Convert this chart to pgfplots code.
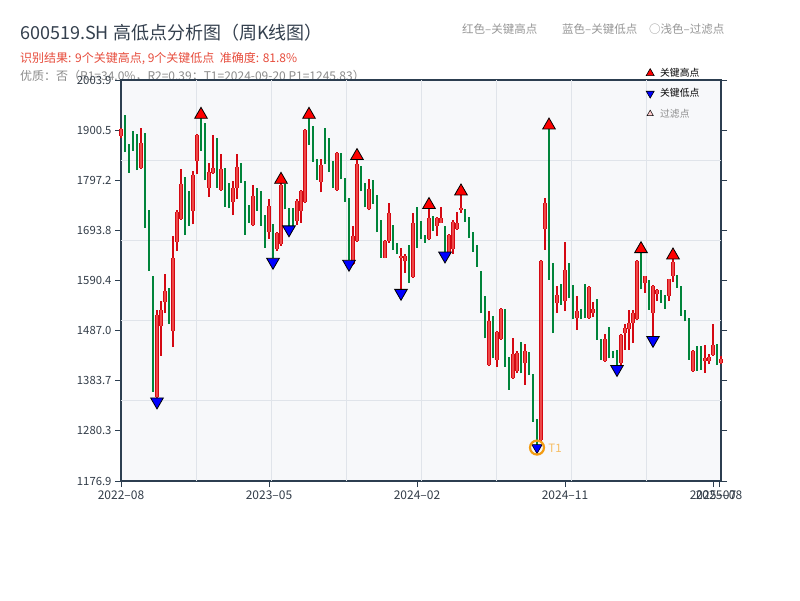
\documentclass[border=0pt]{standalone}
\usepackage{fontspec}
\setmainfont{Noto Sans CJK SC}
\usepackage{pgfplots}
\pgfplotsset{compat=1.18}
\usepackage{pgfplotstable}

\definecolor{upred}{RGB}{212,8,18}
\definecolor{upredin}{RGB}{238,72,72}
\definecolor{dngreen}{RGB}{0,132,58}
\definecolor{spine}{RGB}{44,62,80}
\definecolor{gridc}{RGB}{224,228,234}
\definecolor{bgc}{RGB}{247,248,250}
\definecolor{titlec}{RGB}{52,64,78}
\definecolor{subred}{RGB}{231,76,60}
\definecolor{subgray}{RGB}{140,140,140}
\definecolor{topgray}{RGB}{150,150,150}
\definecolor{ticklab}{RGB}{50,60,72}
\definecolor{t1orange}{RGB}{243,156,18}
\definecolor{t1text}{RGB}{246,190,100}
\definecolor{filtpink}{RGB}{255,205,205}

\pgfplotsset{dotlegend/.style={legend image code/.code={\draw[##1] plot coordinates {(0pt,0pt)};}}}

% weekly candles, red = close above open
\pgfplotstableread{
i o h l c
0 1888 1905 1885 1902
5 1823 1904 1820 1875
9 1351 1530 1348 1520
10 1496 1548 1435 1530
11 1546 1603 1523 1568
13 1486 1683 1453 1637
14 1670 1735 1651 1732
15 1718 1820 1716 1790
18 1734 1816 1706 1807
19 1837 1892 1810 1890
22 1782 1832 1763 1814
23 1813 1890 1811 1823
25 1778 1851 1776 1821
28 1753 1796 1725 1782
29 1782 1851 1759 1825
33 1704 1787 1702 1765
37 1690 1759 1676 1745
39 1655 1690 1651 1688
40 1665 1791 1662 1788
44 1713 1758 1704 1754
45 1734 1777 1710 1775
46 1752 1903 1750 1901
50 1794 1840 1772 1828
54 1777 1855 1775 1853
58 1624 1703 1622 1682
59 1672 1840 1670 1830
62 1737 1800 1735 1780
66 1637 1673 1636 1672
67 1672 1751 1668 1729
70 1636 1658 1572 1640
71 1630 1646 1606 1641
73 1598 1729 1596 1708
77 1675 1739 1673 1720
79 1703 1722 1682 1720
80 1710 1743 1708 1720
82 1648 1686 1647 1685
83 1656 1716 1646 1711
84 1697 1732 1695 1708
85 1736 1767 1730 1740
92 1417 1527 1414 1506
94 1427 1486 1413 1484
95 1470 1534 1468 1532
98 1389 1472 1388 1439
99 1403 1446 1400 1440
101 1420 1460 1375 1446
105 1262 1632 1255 1630
106 1696 1761 1654 1751
109 1544 1580 1524 1561
111 1548 1670 1527 1613
114 1513 1558 1489 1527
117 1513 1580 1512 1578
118 1524 1546 1515 1532
121 1425 1480 1423 1470
125 1420 1480 1417 1478
126 1482 1500 1448 1492
127 1490 1530 1448 1503
128 1503 1530 1462 1523
129 1510 1632 1508 1630
131 1586 1600 1565 1599
133 1524 1582 1475 1580
134 1562 1572 1548 1570
137 1559 1594 1548 1593
138 1600 1635 1588 1628
143 1403 1448 1402 1446
146 1424 1458 1400 1431
147 1425 1438 1418 1433
148 1437 1501 1435 1458
150 1420 1434 1418 1428
}\upK

% weekly candles, green = close below open
\pgfplotstableread{
i o h l c
1 1925 1932 1855 1868
2 1865 1872 1813 1840
3 1893 1898 1858 1862
4 1890 1893 1818 1848
6 1893 1895 1699 1741
7 1732 1735 1611 1627
8 1592 1600 1360 1365
12 1572 1575 1501 1524
16 1801 1803 1684 1710
17 1774 1776 1703 1730
20 1923 1925 1858 1861
21 1913 1916 1797 1820
24 1882 1884 1782 1789
26 1821 1823 1742 1752
27 1789 1791 1739 1750
30 1830 1832 1792 1796
31 1793 1795 1685 1720
32 1744 1746 1710 1723
34 1773 1782 1734 1751
35 1773 1775 1703 1708
36 1723 1725 1658 1699
38 1703 1706 1636 1668
41 1789 1790 1737 1738
42 1737 1740 1703 1705
43 1737 1740 1703 1712
47 1910 1925 1870 1872
48 1908 1910 1835 1836
49 1838 1840 1798 1800
51 1902 1904 1830 1832
52 1883 1885 1815 1817
53 1834 1836 1782 1784
55 1851 1853 1799 1801
56 1800 1802 1753 1755
57 1758 1760 1632 1640
60 1825 1827 1774 1776
61 1789 1791 1741 1750
63 1796 1798 1749 1751
64 1765 1767 1690 1695
65 1713 1715 1637 1640
68 1703 1705 1653 1655
69 1665 1667 1645 1647
72 1661 1663 1585 1590
74 1740 1742 1658 1660
75 1711 1713 1675 1676
76 1682 1684 1668 1669
78 1721 1723 1692 1693
81 1699 1702 1649 1652
86 1736 1738 1712 1713
87 1720 1722 1678 1679
88 1689 1691 1650 1651
89 1661 1663 1619 1620
90 1608 1610 1523 1525
91 1556 1558 1471 1473
93 1515 1517 1430 1432
96 1530 1532 1413 1415
97 1430 1432 1365 1366
100 1462 1464 1399 1400
102 1441 1443 1395 1396
103 1396 1398 1299 1300
104 1303 1305 1245.83 1262
107 1900 1903 1592 1606
108 1624 1626 1482 1544
110 1582 1584 1540 1541
112 1625 1627 1554 1555
113 1580 1582 1511 1512
115 1530 1532 1511 1512
116 1582 1584 1513 1514
119 1550 1552 1468 1470
120 1468 1470 1427 1431
122 1492 1494 1430 1432
123 1444 1446 1430 1431
124 1445 1447 1415 1420
130 1647 1648 1572 1573
132 1589 1591 1530 1532
135 1568 1570 1545 1546
136 1558 1560 1532 1533
139 1599 1601 1575 1576
140 1577 1579 1518 1524
141 1527 1529 1506 1507
142 1511 1513 1427 1428
144 1434 1455 1404 1406
145 1453 1455 1406 1410
149 1458 1460 1416 1418
}\dnK

\pgfplotstableread{
i v
20 1925
40 1791
47 1925
59 1840
77 1739
85 1767
107 1903
130 1648
138 1635
}\highK

\pgfplotstableread{
i v
9 1348
38 1636
42 1703
57 1632
70 1572
81 1649
124 1415
133 1475
}\lowK

\begin{document}
\begin{tikzpicture}
\fill[white] (0,0) rectangle (800pt,600pt);
\path[use as bounding box] (0,0) rectangle (800pt,600pt);

\node[anchor=west, inner sep=0pt, text=titlec, font=\fontsize{18}{21}\selectfont] at (20pt,567pt) {600519.SH 高低点分析图（周K线图）};
\node[anchor=west, inner sep=0pt, text=subred, font=\fontsize{12}{14}\selectfont] at (20pt,541pt) {识别结果: 9个关键高点, 9个关键低点\ \ 准确度: 81.8\%};
\node[anchor=west, inner sep=0pt, text=subgray, font=\fontsize{12}{14}\selectfont] at (20pt,524pt) {优质：否（R1=34.0\%，R2=0.39；T1=2024-09-20 P1=1245.83）};
\node[anchor=west, inner sep=0pt, text=topgray, font=\fontsize{11.5}{13}\selectfont] at (462pt,571pt) {红色–关键高点};
\node[anchor=west, inner sep=0pt, text=topgray, font=\fontsize{11.5}{13}\selectfont] at (562pt,571pt) {蓝色–关键低点};
\node[anchor=west, inner sep=0pt, text=topgray, font=\fontsize{11.5}{13}\selectfont] at (649pt,571pt) {○浅色–过滤点};

\begin{axis}[
  at={(121pt,119pt)}, anchor=south west,
  scale only axis, width=600pt, height=401pt,
  xmin=0, xmax=150, ymin=1176.9, ymax=2003.9,
  clip=false,
  axis background/.style={fill=bgc},
  axis line style={spine, line width=1.4pt},
  xtick={0,37,74,111,148,149.5},
  xticklabels={2022–08,2023–05,2024–02,2024–11,2025–07,2025–08},
  ytick={1176.9,1280.3,1383.7,1487.0,1590.4,1693.8,1797.2,1900.5,2003.9},
  yticklabels={1176.9,1280.3,1383.7,1487.0,1590.4,1693.8,1797.2,1900.5,2003.9},
  tick align=outside, xtick pos=bottom, ytick pos=both, yticklabel pos=left,
  major tick length=6pt,
  tick style={spine, line width=1pt},
  x tick label style={font=\fontsize{12}{14}\selectfont, text=ticklab},
  y tick label style={font=\fontsize{11.3}{13}\selectfont, text=ticklab},
  extra x ticks={18.75,37.5,56.25,75,93.75,112.5,131.25},
  extra y ticks={1342.3,1507.7,1673.1,1838.5},
  extra x tick labels={}, extra y tick labels={},
  extra tick style={grid=major, major tick length=0pt, grid style={gridc, line width=0.9pt}},
  legend style={at={(rel axis cs:0.875,1.032)}, anchor=north west, draw=none, fill=none,
    font=\fontsize{9.8}{11}\selectfont, row sep=8.5pt, column sep=5pt, inner sep=0pt,
    nodes={inner sep=1pt}},
  legend cell align=left,
]
% wicks
\addplot[forget plot, upred, line width=1.1pt, quiver={u=0, v=\thisrow{h}-\thisrow{l}}] table[x=i, y=l] {\upK};
\addplot[forget plot, dngreen, line width=1.1pt, quiver={u=0, v=\thisrow{h}-\thisrow{l}}] table[x=i, y=l] {\dnK};
% bodies
\addplot[forget plot, upred, line width=3.2pt, quiver={u=0, v=\thisrow{c}-\thisrow{o}}] table[x=i, y=o] {\upK};
\addplot[forget plot, upredin, line width=1.2pt, quiver={u=0, v=\thisrow{c}-\thisrow{o}}] table[x=i, y=o] {\upK};
\addplot[forget plot, dngreen, line width=2.7pt, quiver={u=0, v=\thisrow{c}-\thisrow{o}}] table[x=i, y=o] {\dnK};
% key highs and lows
\addplot[forget plot, only marks, mark=triangle*, mark size=7.3pt,
  mark options={yshift=3.6pt, fill=red, draw=black, line width=0.8pt}] table[x=i, y=v] {\highK};
\addplot[forget plot, only marks, mark=triangle*, mark size=7.3pt,
  mark options={yshift=-3.6pt, rotate=180, fill=blue, draw=black, line width=0.8pt}] table[x=i, y=v] {\lowK};
% T1
\addplot[forget plot, only marks, mark=triangle*, mark size=6pt,
  mark options={rotate=180, fill=blue, draw=black, line width=0.6pt}] coordinates {(104,1245.83)};
\addplot[forget plot, only marks, mark=o, mark size=7pt,
  mark options={draw=t1orange, line width=2.2pt},
  nodes near coords={T1},
  every node near coord/.append style={anchor=west, xshift=7pt, yshift=-1pt, text=t1text, font=\fontsize{11.5}{13}\selectfont}] coordinates {(104,1245.83)};
% legend
\addlegendimage{dotlegend, mark=triangle*, mark size=4.6pt, mark options={fill=red, draw=black, line width=0.6pt}}
\addlegendentry{关键高点}
\addlegendimage{dotlegend, mark=triangle*, mark size=4.6pt, mark options={rotate=180, fill=blue, draw=black, line width=0.6pt}}
\addlegendentry{关键低点}
\addlegendimage{dotlegend, mark=triangle*, mark size=3.6pt, mark options={fill=filtpink, draw=black, line width=0.5pt}}
\addlegendentry{\textcolor{subgray}{过滤点}}
\end{axis}
\end{tikzpicture}
\end{document}
